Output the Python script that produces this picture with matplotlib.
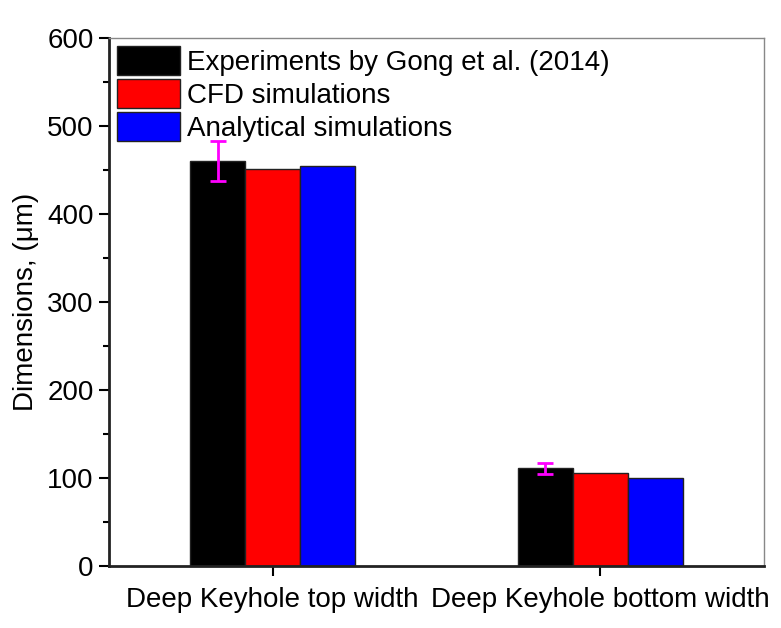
import matplotlib.pyplot as plt
import numpy as np
from matplotlib.ticker import MultipleLocator

plt.rcParams['font.family'] = ['Liberation Sans', 'DejaVu Sans']

# Daten
categories = ['Deep Keyhole top width', 'Deep Keyhole bottom width']
series_names = ['Experiments by Gong et al. (2014)', 'CFD simulations', 'Analytical simulations']
experiments = [460, 111]
experiments_err = [23, 6]
cfd = [451, 106]
analytical = [454, 100]
colors = ['#000000', '#ff0000', '#0000ff']

fig = plt.figure(figsize=(7.81, 6.28), dpi=100)
ax = fig.add_axes([109 / 781, 1 - 566 / 628, (764 - 109) / 781, (566 - 38) / 628])

x = np.arange(len(categories))
w = 0.168
values = [experiments, cfd, analytical]
for i, (vals, name, c) in enumerate(zip(values, series_names, colors)):
    ax.bar(x + (i - 1) * w, vals, width=w, color=c, edgecolor='#222222',
           linewidth=1, label=name, zorder=2)

ax.errorbar(x - w, experiments, yerr=experiments_err, fmt='none', ecolor='#ff00ff',
            elinewidth=2, capsize=6, capthick=2, zorder=3)

fs = 20
ax.set_xlim(-0.5, 1.5)
ax.set_ylim(0, 600)
ax.set_xticks(x)
ax.set_xticklabels(categories, fontsize=fs)
ax.yaxis.set_major_locator(MultipleLocator(100))
ax.yaxis.set_minor_locator(MultipleLocator(50))
ax.tick_params(axis='y', which='major', direction='out', length=7, width=1.5, labelsize=fs, pad=4)
ax.tick_params(axis='y', which='minor', direction='out', length=4, width=1.5)
ax.tick_params(axis='x', direction='out', length=7, width=1.5, pad=8)
ax.set_ylabel('Dimensions, (\u03bcm)', fontsize=fs, labelpad=6)

ax.spines['left'].set_linewidth(2)
ax.spines['bottom'].set_linewidth(2)
ax.spines['left'].set_color('#222222')
ax.spines['bottom'].set_color('#222222')
ax.spines['top'].set_color('#888888')
ax.spines['right'].set_color('#888888')
ax.spines['top'].set_linewidth(1)
ax.spines['right'].set_linewidth(1)

ax.legend(loc='upper left', frameon=False, fontsize=fs, handlelength=2.25,
          handleheight=1.2, labelspacing=0.12, handletextpad=0.25,
          borderaxespad=0.2, borderpad=0.1)

fig.savefig('out.png', dpi=100)
